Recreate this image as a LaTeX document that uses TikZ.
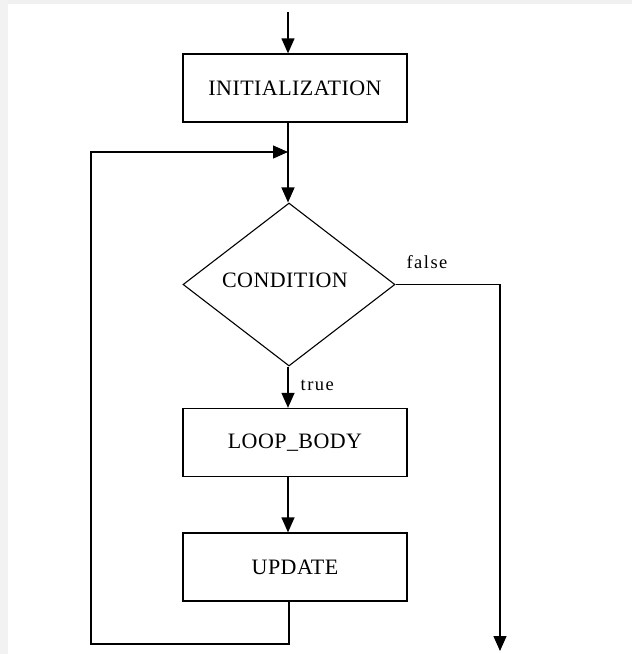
\documentclass[tikz,border=0pt]{standalone}
\usepackage{fontspec}
\setmainfont{Liberation Serif}
\usetikzlibrary{arrows.meta,shapes.geometric}

\begin{document}
\begin{tikzpicture}[x=1pt,y=-1pt,
  line width=1.3pt,
  flow/.style={-{Triangle[width=13pt,length=15pt]}},
  procbox/.style={draw, rectangle, minimum width=224pt, minimum height=68pt,
    inner sep=0pt, font=\fontsize{22}{24}\selectfont\addfontfeatures{LetterSpace=2}},
  decision/.style={draw, diamond, line width=1.1pt, minimum width=212pt,
    minimum height=163pt, inner sep=0pt, font=\fontsize{22}{24}\selectfont\addfontfeatures{LetterSpace=2}},
  edgelabel/.style={inner sep=0pt, font=\fontsize{18.5}{22}\selectfont\addfontfeatures{LetterSpace=8}}]

  % page and its faint frame
  \useasboundingbox (0,0) rectangle (632,654);
  \fill[white] (0,0) rectangle (632,654);
  \fill[gray!12] (0,0) rectangle (632,4);
  \fill[gray!10] (0,0) rectangle (8,654);

  % blocks
  \node[procbox] (init) at (295,88) {INITIALIZATION};
  \node[decision] (cond) at (289,284.5) {\raisebox{8pt}{CONDITION\hspace{8pt}}};
  \node[procbox] (body) at (295,442.5) {LOOP\_BODY};
  \node[procbox] (upd) at (295,567) {UPDATE};

  % free ends and bends
  \coordinate (entry) at (288,12);
  \coordinate (join) at (288,152);
  \coordinate (loopdown) at (289,644);
  \coordinate (loopleft) at (91,644);
  \coordinate (loopup) at (91,152);
  \coordinate (exit) at (500,651);

  % main flow
  \draw[flow] (entry) -- (init.north -| entry);
  \draw (init.south -| join) -- (join);
  \draw[flow] (join) -- (cond.north -| join);
  \draw[flow] (cond.south -| join) -- (body.north -| join)
    node[edgelabel, pos=0.45, right=12pt] {true};
  \draw[flow] (body.south -| join) -- (upd.north -| join);

  % back edge from the update step
  \draw[flow] (upd.south -| loopdown) -- (loopdown) -- (loopleft)
    -- (loopup) -- (join);

  % exit when the condition is false
  \draw[flow] (cond.east) -| (exit);
  \node[edgelabel] (falselabel) at (427,262) {false};
\end{tikzpicture}
\end{document}
